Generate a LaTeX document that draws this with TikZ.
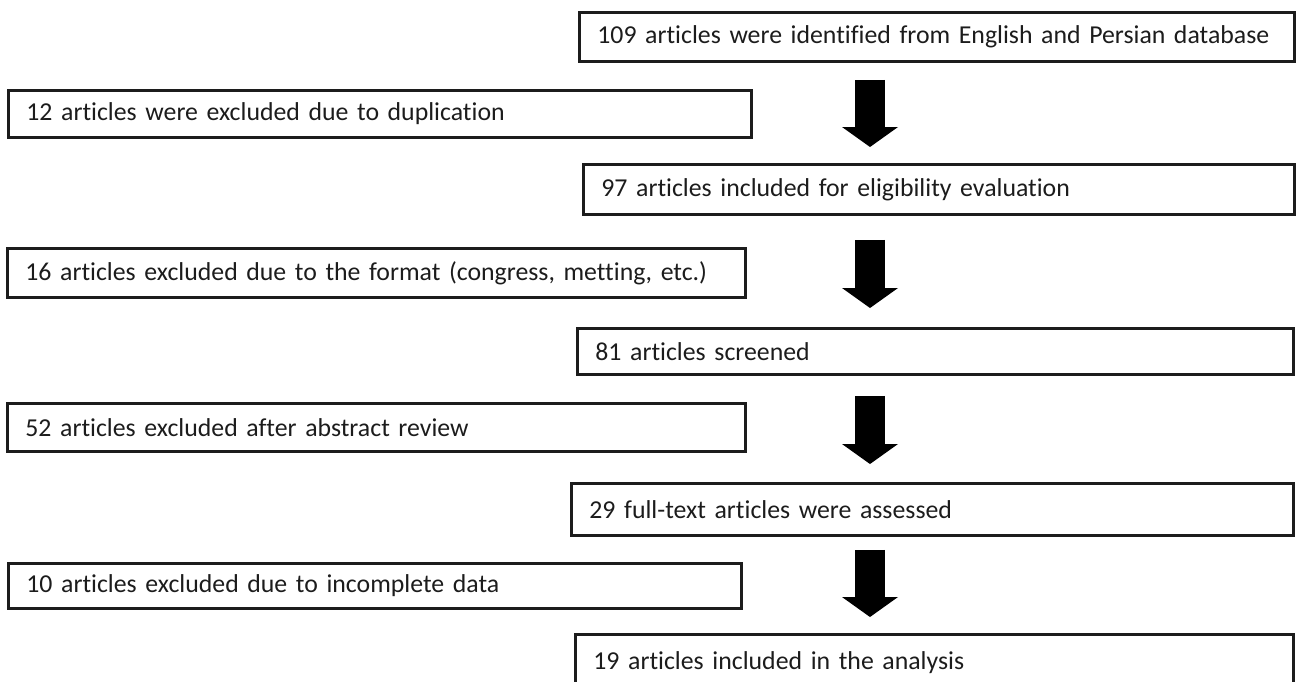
\documentclass[tikz,border=0pt]{standalone}
\usepackage{fontspec}
\setmainfont{Carlito}[Ligatures=NoCommon]
\usepackage{tikz}
\usetikzlibrary{arrows.meta, calc}
\definecolor{cInk}{HTML}{1C1C1C}

\tikzset{
  stagebox/.style={draw=cInk, line width=2.8pt, anchor=north west, align=left,
    inner xsep=18pt, inner ysep=0pt, text=cInk,
    font=\fontsize{25.8}{30}\selectfont},
  flowarrow/.style={draw=black, line width=30pt,
    -{Triangle[width=56pt, length=20pt, line width=0pt]}},
}

\begin{document}
\begin{tikzpicture}[x=1pt, y=-1pt]
  \clip (0,0) rectangle (1303,681);
  \useasboundingbox (0,0) rectangle (1303,681);

  % records kept, right column
  \node[stagebox, text width=679pt, minimum height=49pt] (ident)  at (578,11)  {109 articles were identified from English and Persian database};
  \node[stagebox, text width=675pt, minimum height=50pt] (elig)   at (582,163) {97 articles included for eligibility evaluation};
  \node[stagebox, text width=680pt, minimum height=46pt] (screen) at (576,327) {81 articles screened};
  \node[stagebox, text width=686pt, minimum height=52pt] (full)   at (570,482) {29 full-text articles were assessed};
  \node[stagebox, text width=682pt, minimum height=56pt] (final)  at (574,633) {19 articles included in the analysis};

  % records dropped, left column
  \node[stagebox, text width=707pt, minimum height=47pt] (dup)    at (7,89)   {12 articles were excluded due to duplication};
  \node[stagebox, text width=702pt, minimum height=49pt] (format) at (6,247)  {16 articles excluded due to the format (congress, metting, etc.)};
  \node[stagebox, text width=702pt, minimum height=48pt] (abstr)  at (6,402)  {52 articles excluded after abstract review};
  \node[stagebox, text width=697pt, minimum height=45pt] (incomp) at (7,562)  {10 articles excluded due to incomplete data};

  \coordinate (spine) at (870,0);
  \foreach \from/\to/\gapa/\gapb in {ident/elig/17pt/16pt, elig/screen/24pt/19pt,
                                     screen/full/20pt/18pt, full/final/13pt/16pt}{
    \draw[flowarrow, shorten <=\gapa, shorten >=\gapb] (spine |- \from.south) -- (spine |- \to.north);
  }
\end{tikzpicture}
\end{document}
